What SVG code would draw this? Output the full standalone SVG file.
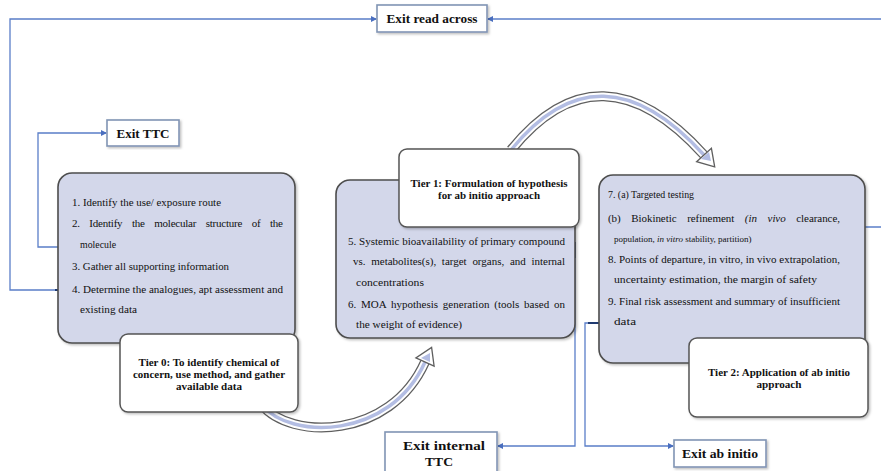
<svg xmlns="http://www.w3.org/2000/svg" width="881" height="471" viewBox="0 0 881 471">
<defs>
<marker id="ah" markerWidth="6" markerHeight="6" refX="5" refY="3" orient="auto" markerUnits="userSpaceOnUse"><path d="M0,0 L6,3 L0,6 Z" fill="#4a6fc0"/></marker>
<filter id="sh" x="-5%" y="-5%" width="115%" height="120%"><feDropShadow dx="1.5" dy="1.5" stdDeviation="1" flood-color="#000" flood-opacity="0.25"/></filter>
<style>
.content{fill:#d3d7ea;stroke:#4d4d4d;stroke-width:1.6;filter:url(#sh)}
.title{fill:#fff;stroke:#555;stroke-width:1.5;filter:url(#sh)}
.exit{fill:#fff;stroke:#8194b4;stroke-width:1.6;filter:url(#sh)}
.t{font-family:"Liberation Serif","Times New Roman",serif;font-size:11px;fill:#111}
.ts{font-family:"Liberation Serif","Times New Roman",serif;font-size:9px;fill:#111}
.tb{font-family:"Liberation Serif","Times New Roman",serif;font-size:11px;font-weight:bold;fill:#111;text-anchor:middle}
.te{font-family:"Liberation Serif","Times New Roman",serif;font-size:13px;font-weight:bold;fill:#111;text-anchor:middle}
.c{fill:none;stroke:#5a7ec8;stroke-width:1.3}
.cd{fill:none;stroke:#1f3a70;stroke-width:2}
.bo{fill:none;stroke:#5f5f5f;stroke-width:10}
.bw{fill:none;stroke:#fff;stroke-width:7.5}
.bl{fill:none;stroke:#b3bde3;stroke-width:3.5}
.it{font-style:italic}
</style>
</defs>

<g id="curved-arrows">
<path class="bo" d="M511 150 Q600 40 704 155"/>
<path class="bw" d="M511 150 Q600 40 704 155"/>
<path class="bl" d="M511 150 Q600 40 704 155"/>
<polygon points="714.7,166.8 696.6,161.7 711.4,148.3" fill="#fff" stroke="#5f5f5f" stroke-width="1.3"/>
<polygon points="711,161 701,159 709,152" fill="#b3bde3"/>
<path class="bo" d="M262 405 C290 440 390 440 425 362"/>
<path class="bw" d="M262 405 C290 440 390 440 425 362"/>
<path class="bl" d="M262 405 C290 440 390 440 425 362"/>
<polygon points="431.6,347.4 434.1,366.1 415.9,357.9" fill="#fff" stroke="#5f5f5f" stroke-width="1.3"/>
<polygon points="430,353 430,362 421,358" fill="#b3bde3"/>
</g>

<g id="connectors">
<path class="c" d="M72 247 H38 V133 H106" marker-end="url(#ah)"/>
<path class="cd" d="M72 247 H60"/>
<path class="c" d="M70 290 H10 V19 H376" marker-end="url(#ah)"/>
<path class="cd" d="M70 290 H55"/>
<path class="c" d="M843 227 H881"/>
<path class="cd" d="M843 227 H856"/>
<path class="c" d="M881 19 H488" marker-end="url(#ah)"/>
<path class="c" d="M553 243 H575 V446 H498" marker-end="url(#ah)"/>
<path class="cd" d="M553 243 H575 V258"/>
<path class="c" d="M608 323 H585 V446 H673" marker-end="url(#ah)"/>
<path class="cd" d="M608 323 H588"/>
</g>

<g id="tier0">
<rect class="content" x="58" y="173" width="237" height="170" rx="14"/>
<text class="t" x="72" y="206" textLength="149" lengthAdjust="spacingAndGlyphs">1. Identify the use/ exposure route</text>
<text class="t" x="72" y="227" textLength="211" word-spacing="7">2. Identify the molecular structure of the</text>
<text class="t" x="80" y="248" textLength="36" lengthAdjust="spacingAndGlyphs">molecule</text>
<text class="t" x="72" y="270" textLength="157" lengthAdjust="spacingAndGlyphs">3. Gather all supporting information</text>
<text class="t" x="72" y="293" textLength="211" lengthAdjust="spacingAndGlyphs">4. Determine the analogues, apt assessment and</text>
<text class="t" x="80" y="313" textLength="57" lengthAdjust="spacingAndGlyphs">existing data</text>
</g>
<g id="tier0-title">
<rect class="title" x="120" y="334" width="178" height="78" rx="8"/>
<text class="tb" x="209" y="366" textLength="141" lengthAdjust="spacingAndGlyphs">Tier 0: To identify chemical of</text>
<text class="tb" x="209" y="378" textLength="152" lengthAdjust="spacingAndGlyphs">concern, use method, and gather</text>
<text class="tb" x="209" y="390" textLength="66" lengthAdjust="spacingAndGlyphs">available data</text>
</g>

<g id="tier1">
<rect class="content" x="336" y="180" width="239" height="158" rx="14"/>
<text class="t" x="348" y="245" textLength="217" lengthAdjust="spacingAndGlyphs">5. Systemic bioavailability of primary compound</text>
<text class="t" x="353" y="265" textLength="212" word-spacing="3">vs. metabolites(s), target organs, and internal</text>
<text class="t" x="356" y="286" textLength="68" lengthAdjust="spacingAndGlyphs">concentrations</text>
<text class="t" x="348" y="308" textLength="217" word-spacing="2">6. MOA hypothesis generation (tools based on</text>
<text class="t" x="356" y="328" textLength="106" lengthAdjust="spacingAndGlyphs">the weight of evidence)</text>
</g>
<g id="tier1-title">
<rect class="title" x="399" y="149" width="180" height="78" rx="8"/>
<text class="tb" x="489" y="187" textLength="157" lengthAdjust="spacingAndGlyphs">Tier 1: Formulation of hypothesis</text>
<text class="tb" x="489" y="199" textLength="102" lengthAdjust="spacingAndGlyphs">for ab initio approach</text>
</g>

<g id="tier2">
<rect class="content" x="599" y="175" width="266" height="188" rx="14"/>
<text class="t" x="608" y="198" textLength="86" lengthAdjust="spacingAndGlyphs">7. (a) Targeted testing</text>
<text class="t" x="608" y="222" textLength="232" word-spacing="8">(b) Biokinetic refinement <tspan class="it">(in vivo</tspan> clearance,</text>
<text class="ts" x="614" y="242">population, <tspan class="it">in vitro</tspan> stability, partition)</text>
<text class="t" x="608" y="263" textLength="232" lengthAdjust="spacingAndGlyphs">8. Points of departure, in vitro, in vivo extrapolation,</text>
<text class="t" x="614" y="283" textLength="203" lengthAdjust="spacingAndGlyphs">uncertainty estimation, the margin of safety</text>
<text class="t" x="608" y="305" textLength="232" lengthAdjust="spacingAndGlyphs">9. Final risk assessment and summary of insufficient</text>
<text class="t" x="614" y="325" textLength="22" lengthAdjust="spacingAndGlyphs">data</text>
</g>
<g id="tier2-title">
<rect class="title" x="689" y="338" width="179" height="79" rx="8"/>
<text class="tb" x="779" y="376" textLength="142" lengthAdjust="spacingAndGlyphs">Tier 2: Application of ab initio</text>
<text class="tb" x="779" y="388" textLength="45" lengthAdjust="spacingAndGlyphs">approach</text>
</g>

<g id="exit-read-across">
<rect class="exit" x="377" y="5" width="110" height="27"/>
<text class="te" x="432" y="23" textLength="91" lengthAdjust="spacingAndGlyphs">Exit read across</text>
</g>
<g id="exit-ttc">
<rect class="exit" x="107" y="120" width="72" height="26"/>
<text class="te" x="143" y="138" textLength="53" lengthAdjust="spacingAndGlyphs">Exit TTC</text>
</g>
<g id="exit-internal-ttc">
<rect class="exit" x="385" y="432" width="112" height="45"/>
<text class="te" x="444" y="450" textLength="82" lengthAdjust="spacingAndGlyphs">Exit internal</text>
<text class="te" x="439" y="466" textLength="28" lengthAdjust="spacingAndGlyphs">TTC</text>
</g>
<g id="exit-ab-initio">
<rect class="exit" x="674" y="440" width="92" height="27"/>
<text class="te" x="720" y="458" textLength="76" lengthAdjust="spacingAndGlyphs">Exit ab initio</text>
</g>
</svg>
